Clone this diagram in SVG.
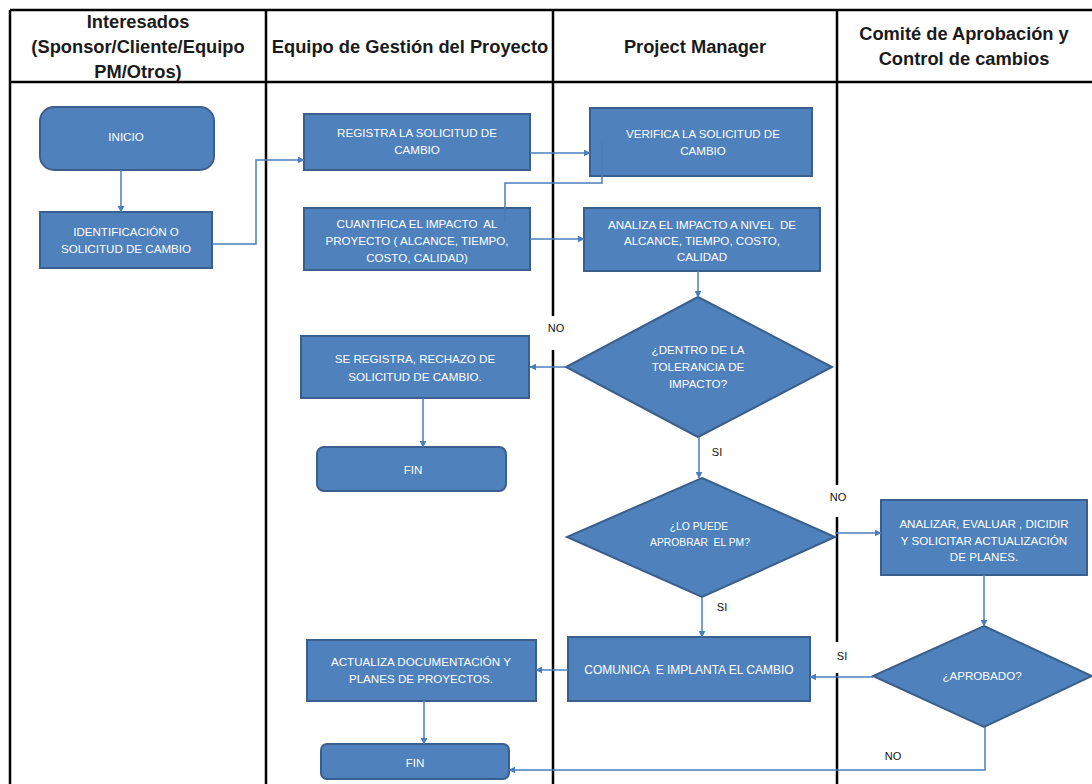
<svg xmlns="http://www.w3.org/2000/svg" width="1092" height="784" viewBox="0 0 1092 784">
  <defs>
    <style>
      .lane { stroke: #000; stroke-width: 2.5; fill: none; }
      .hdr { font-family: "Liberation Sans", Arial, sans-serif; font-weight: bold; font-size: 18.3px; fill: #1a1a1a; text-anchor: middle; }
      .box { fill: #4F81BD; stroke: #3A5F8C; stroke-width: 2; }
      .txt { font-family: "Liberation Sans", Arial, sans-serif; font-size: 11.6px; fill: #fff; text-anchor: middle; white-space: pre; }
      .lbl { font-family: "Liberation Sans", Arial, sans-serif; font-size: 11px; fill: #111; text-anchor: middle; }
      .conn { stroke: #4A7EBB; stroke-width: 1.5; fill: none; }
      .arr { marker-end: url(#ah); }
    </style>
    <marker id="ah" viewBox="0 0 10 10" refX="9" refY="5" markerWidth="7" markerHeight="7" markerUnits="userSpaceOnUse" orient="auto">
      <path d="M0,0 L10,5 L0,10 z" fill="#4A7EBB"/>
    </marker>
  </defs>

  <rect width="1092" height="784" fill="#fff"/>

  <!-- swimlane table -->
  <g id="lanes">
    <line class="lane" x1="10" y1="10" x2="1092" y2="10"/>
    <line class="lane" x1="10" y1="82" x2="1092" y2="82"/>
    <line class="lane" x1="10" y1="10" x2="10" y2="784"/>
    <line class="lane" x1="266" y1="10" x2="266" y2="784"/>
    <line class="lane" x1="553" y1="10" x2="553" y2="316"/>
    <line class="lane" x1="553" y1="350" x2="553" y2="784"/>
    <line class="lane" x1="837" y1="10" x2="837" y2="485"/>
    <line class="lane" x1="837" y1="517" x2="837" y2="642"/>
    <line class="lane" x1="837" y1="673" x2="837" y2="784"/>
    <text class="hdr" x="138" y="28">Interesados</text>
    <text class="hdr" x="138" y="53">(Sponsor/Cliente/Equipo</text>
    <text class="hdr" x="138" y="78">PM/Otros)</text>
    <text class="hdr" x="410" y="53">Equipo de Gestión del Proyecto</text>
    <text class="hdr" x="695" y="53">Project Manager</text>
    <text class="hdr" x="964" y="40">Comité de Aprobación y</text>
    <text class="hdr" x="964" y="65">Control de cambios</text>
  </g>

  <!-- flow nodes -->
  <g id="inicio">
    <rect class="box" x="40" y="107" width="174" height="63" rx="14"/>
    <text class="txt" x="126" y="141">INICIO</text>
  </g>
  <g id="identificacion">
    <rect class="box" x="40" y="212" width="172" height="56"/>
    <text class="txt" x="126" y="236">IDENTIFICACIÓN O</text>
    <text class="txt" x="126" y="253">SOLICITUD DE CAMBIO</text>
  </g>
  <g id="registra">
    <rect class="box" x="304" y="114" width="226" height="56"/>
    <text class="txt" x="417" y="137">REGISTRA LA SOLICITUD DE</text>
    <text class="txt" x="417" y="154">CAMBIO</text>
  </g>
  <g id="cuantifica">
    <rect class="box" x="304" y="208" width="226" height="62"/>
    <text class="txt" x="417" y="228">CUANTIFICA EL IMPACTO  AL</text>
    <text class="txt" x="417" y="245">PROYECTO ( ALCANCE, TIEMPO,</text>
    <text class="txt" x="417" y="262">COSTO, CALIDAD)</text>
  </g>
  <g id="verifica">
    <rect class="box" x="590" y="108" width="222" height="68"/>
    <text class="txt" x="703" y="138">VERIFICA LA SOLICITUD DE</text>
    <text class="txt" x="703" y="155">CAMBIO</text>
  </g>
  <g id="analiza">
    <rect class="box" x="584" y="208" width="236" height="63"/>
    <text class="txt" x="702" y="229">ANALIZA EL IMPACTO A NIVEL  DE</text>
    <text class="txt" x="702" y="245">ALCANCE, TIEMPO, COSTO,</text>
    <text class="txt" x="702" y="261">CALIDAD</text>
  </g>
  <g id="tolerancia">
    <polygon class="box" points="698,297 832,367 698,437 566,367"/>
    <text class="txt" x="698" y="354">¿DENTRO DE LA</text>
    <text class="txt" x="698" y="371">TOLERANCIA DE</text>
    <text class="txt" x="698" y="388">IMPACTO?</text>
  </g>
  <g id="rechazo">
    <rect class="box" x="301" y="336" width="228" height="62"/>
    <text class="txt" x="415" y="363">SE REGISTRA, RECHAZO DE</text>
    <text class="txt" x="415" y="381">SOLICITUD DE CAMBIO.</text>
  </g>
  <g id="fin1">
    <rect class="box" x="317" y="447" width="189" height="44" rx="7"/>
    <text class="txt" x="413" y="474">FIN</text>
  </g>
  <g id="aprobar-pm">
    <polygon class="box" points="702,478 835,537 702,597 567,537"/>
    <text class="txt" x="699" y="530" style="font-size:10.3px">¿LO PUEDE</text>
    <text class="txt" x="700" y="546" style="font-size:10.3px">APROBRAR  EL PM?</text>
  </g>
  <g id="analizar">
    <rect class="box" x="881" y="500" width="206" height="75"/>
    <text class="txt" x="984" y="528">ANALIZAR, EVALUAR , DICIDIR</text>
    <text class="txt" x="984" y="545">Y SOLICITAR ACTUALIZACIÓN</text>
    <text class="txt" x="984" y="561">DE PLANES.</text>
  </g>
  <g id="aprobado">
    <polygon class="box" points="984,626 1092,676 984,727 873,676"/>
    <text class="txt" x="982" y="680">¿APROBADO?</text>
  </g>
  <g id="comunica">
    <rect class="box" x="568" y="637" width="242" height="64"/>
    <text class="txt" x="689" y="674" style="font-size:12px">COMUNICA  E IMPLANTA EL CAMBIO</text>
  </g>
  <g id="actualiza">
    <rect class="box" x="307" y="640" width="229" height="61"/>
    <text class="txt" x="421" y="666">ACTUALIZA DOCUMENTACIÓN Y</text>
    <text class="txt" x="421" y="683">PLANES DE PROYECTOS.</text>
  </g>
  <g id="fin2">
    <rect class="box" x="321" y="744" width="188" height="35" rx="6"/>
    <text class="txt" x="415" y="767">FIN</text>
  </g>

  <!-- connectors -->
  <g id="connectors">
    <line class="conn arr" x1="121" y1="170" x2="121" y2="212"/>
    <polyline class="conn arr" points="212,244 256,244 256,160 304,160"/>
    <line class="conn arr" x1="530" y1="153" x2="590" y2="153"/>
    <polyline class="conn" points="602,142 602,183 505,183 505,222"/>
    <line class="conn arr" x1="530" y1="239" x2="584" y2="239"/>
    <line class="conn arr" x1="698" y1="271" x2="698" y2="297"/>
    <line class="conn arr" x1="566" y1="367" x2="530" y2="367"/>
    <line class="conn arr" x1="423" y1="398" x2="423" y2="447"/>
    <line class="conn arr" x1="699" y1="437" x2="699" y2="478"/>
    <line class="conn arr" x1="835" y1="533" x2="881" y2="533"/>
    <line class="conn arr" x1="702" y1="597" x2="702" y2="637"/>
    <line class="conn arr" x1="984" y1="575" x2="984" y2="626"/>
    <line class="conn arr" x1="873" y1="677" x2="810" y2="677"/>
    <line class="conn arr" x1="568" y1="670" x2="536" y2="670"/>
    <line class="conn arr" x1="424" y1="701" x2="424" y2="744"/>
    <polyline class="conn arr" points="985,727 985,770 509,770"/>
    <text class="lbl" x="556" y="332">NO</text>
    <text class="lbl" x="717" y="456">SI</text>
    <text class="lbl" x="838" y="501">NO</text>
    <text class="lbl" x="722" y="611">SI</text>
    <text class="lbl" x="842" y="660">SI</text>
    <text class="lbl" x="893" y="760">NO</text>
  </g>
</svg>
